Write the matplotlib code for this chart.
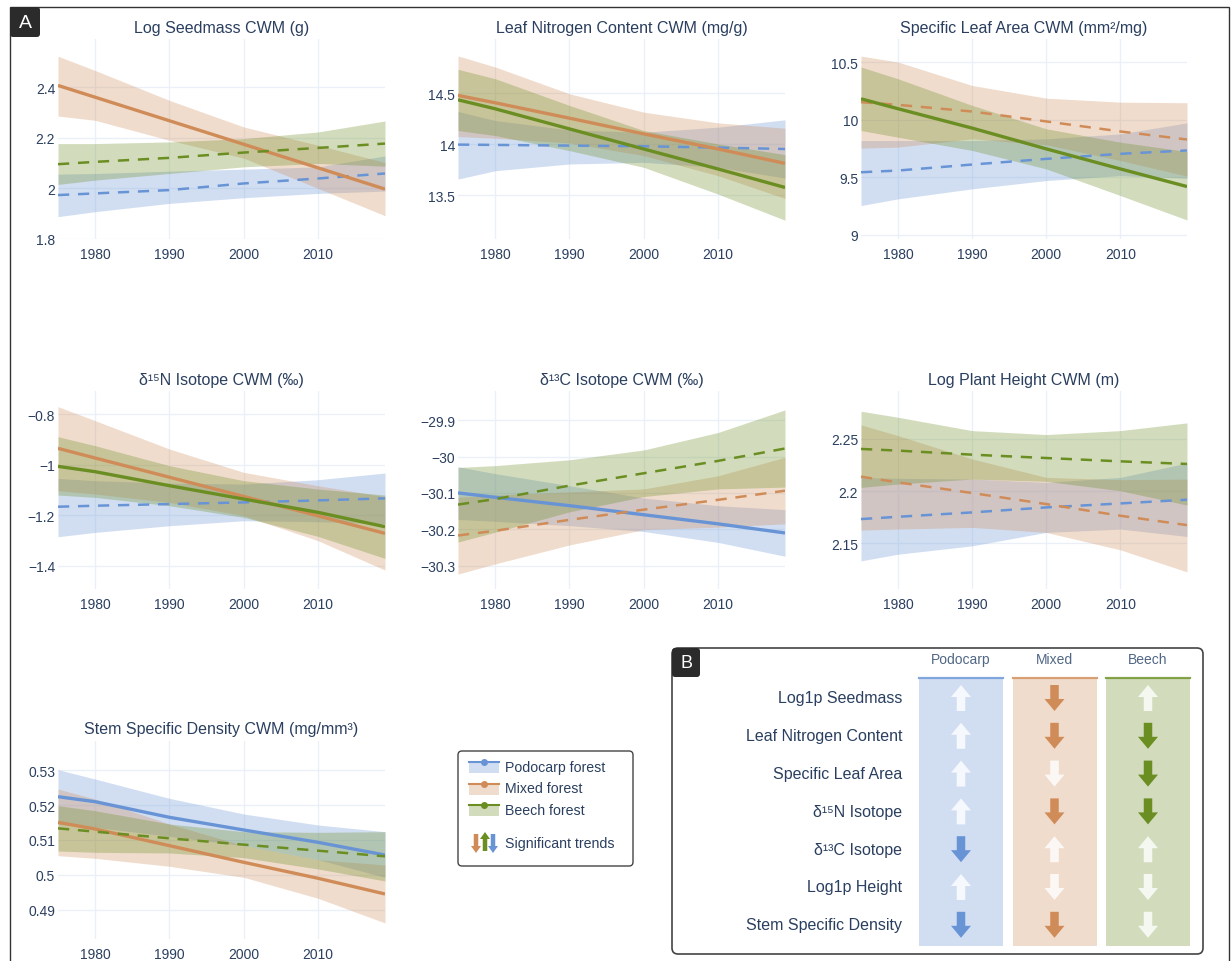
"""
Trait CWM trends 1975-2019 by forest type (panel A) and a summary of
trend direction / significance (panel B).
"""

import matplotlib
matplotlib.use("Agg")
import matplotlib.pyplot as plt
from matplotlib.patches import Rectangle, FancyBboxPatch, FancyArrow

plt.rcParams["font.family"] = ["Liberation Sans", "DejaVu Sans"]

W, H = 1231, 962
TXT = "#2a3f5f"
GRID = "#ebf0f8"

FORESTS = ["Podocarp", "Mixed", "Beech"]
COLORS = {"Podocarp": "#6894d6", "Mixed": "#d08c58", "Beech": "#6b8e23"}

YEARS = [1975, 1980, 1990, 2000, 2010, 2019]
XTICKS = [1980, 1990, 2000, 2010]

# ---- panel A data ----
seed_mean = {"Podocarp": [1.9735, 1.9801, 1.9932, 2.0194, 2.0391, 2.0588],
             "Mixed":    [2.4066, 2.3600, 2.2670, 2.1740, 2.0810, 1.9971],
             "Beech":    [2.0955, 2.1047, 2.1205, 2.1415, 2.1598, 2.1769]}
seed_lo = {"Podocarp": [1.8882, 1.9079, 1.9407, 1.9630, 1.9801, 1.9892],
           "Mixed":    [2.2858, 2.2688, 2.1900, 2.1192, 1.9997, 1.8921],
           "Beech":    [2.0155, 2.0325, 2.0588, 2.0850, 2.0982, 2.0877]}
seed_hi = {"Podocarp": [2.0562, 2.0588, 2.0680, 2.0759, 2.0850, 2.1283],
           "Mixed":    [2.5220, 2.4656, 2.3475, 2.2425, 2.1703, 2.1021],
           "Beech":    [2.1769, 2.1769, 2.1835, 2.1966, 2.2228, 2.2661]}

leafn_mean = {"Podocarp": [13.995, 13.992, 13.985, 13.979, 13.966, 13.952],
              "Mixed":    [14.477, 14.405, 14.254, 14.100, 13.952, 13.811],
              "Beech":    [14.434, 14.346, 14.149, 13.952, 13.756, 13.575]}
leafn_lo = {"Podocarp": [13.657, 13.739, 13.805, 13.821, 13.772, 13.667],
            "Mixed":    [14.074, 14.057, 14.011, 13.887, 13.690, 13.467],
            "Beech":    [14.133, 14.084, 13.936, 13.772, 13.510, 13.254]}
leafn_hi = {"Podocarp": [14.320, 14.231, 14.139, 14.116, 14.166, 14.238],
            "Mixed":    [14.864, 14.756, 14.493, 14.313, 14.208, 14.156],
            "Beech":    [14.733, 14.641, 14.379, 14.133, 14.002, 13.897]}

sla_mean = {"Podocarp": [9.544, 9.559, 9.611, 9.660, 9.704, 9.733],
            "Mixed":    [10.152, 10.129, 10.071, 9.985, 9.898, 9.828],
            "Beech":    [10.181, 10.095, 9.927, 9.747, 9.573, 9.420]}
sla_lo = {"Podocarp": [9.255, 9.313, 9.400, 9.472, 9.515, 9.492],
          "Mixed":    [9.753, 9.762, 9.834, 9.782, 9.646, 9.510],
          "Beech":    [9.906, 9.848, 9.733, 9.573, 9.342, 9.130]}
sla_hi = {"Podocarp": [9.819, 9.819, 9.819, 9.834, 9.877, 9.973],
          "Mixed":    [10.552, 10.500, 10.297, 10.187, 10.152, 10.147],
          "Beech":    [10.457, 10.355, 10.124, 9.921, 9.805, 9.724]}

n15_mean = {"Podocarp": [-1.1666, -1.1627, -1.1561, -1.1495, -1.1416, -1.1336],
            "Mixed":    [-0.9358, -0.9740, -1.0500, -1.1260, -1.2030, -1.2721],
            "Beech":    [-1.0070, -1.0281, -1.0835, -1.1363, -1.1890, -1.2457]}
n15_lo = {"Podocarp": [-1.2853, -1.2682, -1.2418, -1.2220, -1.2260, -1.2339],
          "Mixed":    [-1.1033, -1.1165, -1.1495, -1.2022, -1.3011, -1.4172],
          "Beech":    [-1.1205, -1.1297, -1.1627, -1.2088, -1.2840, -1.3710]}
n15_hi = {"Podocarp": [-1.0545, -1.0637, -1.0730, -1.0769, -1.0598, -1.0334],
          "Mixed":    [-0.7710, -0.8264, -0.9385, -1.0308, -1.0836, -1.1270],
          "Beech":    [-0.8897, -0.9253, -1.0044, -1.0638, -1.0967, -1.1204]}

c13_mean = {"Podocarp": [-30.100, -30.112, -30.135, -30.160, -30.185, -30.210],
            "Mixed":    [-30.217, -30.204, -30.174, -30.146, -30.119, -30.094],
            "Beech":    [-30.132, -30.117, -30.080, -30.046, -30.012, -29.978]}
c13_lo = {"Podocarp": [-30.173, -30.178, -30.190, -30.206, -30.236, -30.274],
          "Mixed":    [-30.323, -30.295, -30.243, -30.201, -30.194, -30.185],
          "Beech":    [-30.235, -30.208, -30.152, -30.110, -30.089, -30.084]}
c13_hi = {"Podocarp": [-30.028, -30.047, -30.080, -30.114, -30.135, -30.146],
          "Mixed":    [-30.112, -30.106, -30.097, -30.089, -30.053, -30.002],
          "Beech":    [-30.030, -30.025, -30.009, -29.982, -29.934, -29.872]}

height_mean = {"Podocarp": [2.1731, 2.1753, 2.1795, 2.1843, 2.1881, 2.1917],
               "Mixed":    [2.2138, 2.2083, 2.1981, 2.1875, 2.1763, 2.1673],
               "Beech":    [2.2404, 2.2388, 2.2349, 2.2317, 2.2285, 2.2260]}
height_lo = {"Podocarp": [2.1330, 2.1394, 2.1474, 2.1603, 2.1635, 2.1564],
             "Mixed":    [2.1625, 2.1635, 2.1651, 2.1603, 2.1436, 2.1224],
             "Beech":    [2.2035, 2.2067, 2.2115, 2.2093, 2.2003, 2.1865]}
height_hi = {"Podocarp": [2.2131, 2.2122, 2.2115, 2.2083, 2.2131, 2.2269],
             "Mixed":    [2.2635, 2.2532, 2.2308, 2.2131, 2.2109, 2.2115],
             "Beech":    [2.2766, 2.2708, 2.2580, 2.2542, 2.2580, 2.2654]}

ssd_mean = {"Podocarp": [0.52238, 0.52095, 0.51648, 0.51286, 0.50933, 0.50571],
            "Mixed":    [0.51505, 0.51314, 0.50838, 0.50362, 0.49905, 0.49457],
            "Beech":    [0.51333, 0.51238, 0.51048, 0.50867, 0.50695, 0.50533]}
ssd_lo = {"Podocarp": [0.51448, 0.51362, 0.51105, 0.50838, 0.50438, 0.49933],
          "Mixed":    [0.50552, 0.50476, 0.50248, 0.49933, 0.49333, 0.48629],
          "Beech":    [0.50686, 0.50648, 0.50629, 0.50495, 0.50171, 0.49829]}
ssd_hi = {"Podocarp": [0.53010, 0.52743, 0.52190, 0.51743, 0.51429, 0.51238],
          "Mixed":    [0.52457, 0.52171, 0.51457, 0.50838, 0.50438, 0.50286],
          "Beech":    [0.51981, 0.51838, 0.51457, 0.51238, 0.51219, 0.51238]}

TITLES = ["Log Seedmass CWM (g)", "Leaf Nitrogen Content CWM (mg/g)",
          "Specific Leaf Area CWM (mm²/mg)", "δ¹⁵N Isotope CWM (‰)",
          "δ¹³C Isotope CWM (‰)", "Log Plant Height CWM (m)",
          "Stem Specific Density CWM (mg/mm³)"]
YTICKS = [[1.8, 2, 2.2, 2.4], [13.5, 14, 14.5], [9, 9.5, 10, 10.5],
          [-1.4, -1.2, -1, -0.8], [-30.3, -30.2, -30.1, -30, -29.9],
          [2.15, 2.2, 2.25], [0.49, 0.5, 0.51, 0.52, 0.53]]
YLIMS = [(1.8, 2.59), (13.07, 15.03), (8.965, 10.70), (-1.492, -0.709),
         (-30.364, -29.82), (2.106, 2.296), (0.4817, 0.5383)]

# ---- panel B data ----
B_ROWS = ["Log1p Seedmass", "Leaf Nitrogen Content", "Specific Leaf Area",
          "δ¹⁵N Isotope", "δ¹³C Isotope", "Log1p Height", "Stem Specific Density"]
DIRECTION = {"Podocarp": [1, 1, 1, 1, -1, 1, -1],
             "Mixed":    [-1, -1, -1, -1, 1, -1, -1],
             "Beech":    [1, -1, -1, -1, 1, -1, -1]}
SIGNIF = {"Podocarp": [0, 0, 0, 0, 1, 0, 1],
          "Mixed":    [1, 1, 0, 1, 0, 0, 1],
          "Beech":    [0, 1, 1, 1, 0, 0, 0]}

PANELS = [(seed_mean, seed_lo, seed_hi), (leafn_mean, leafn_lo, leafn_hi),
          (sla_mean, sla_lo, sla_hi), (n15_mean, n15_lo, n15_hi),
          (c13_mean, c13_lo, c13_hi), (height_mean, height_lo, height_hi),
          (ssd_mean, ssd_lo, ssd_hi)]

COLS = [(58, 385), (458, 785), (861, 1187)]
ROWS = [(40, 240), (392, 590), (742, 940)]


def fmt(v):
    return f"{v:g}".replace("-", "\u2212")


fig = plt.figure(figsize=(W / 100, H / 100), dpi=100)

for i, (mean, lo, hi) in enumerate(PANELS):
    x0, x1 = COLS[i % 3]
    y0, y1 = ROWS[i // 3]
    ax = fig.add_axes([x0 / W, 1 - y1 / H, (x1 - x0) / W, (y1 - y0) / H])
    for f in FORESTS:
        c = COLORS[f]
        ax.fill_between(YEARS, lo[f], hi[f], color=c, alpha=0.3, lw=0)
        if SIGNIF[f][i]:
            ax.plot(YEARS, mean[f], color=c, lw=2.4, solid_capstyle="butt")
        else:
            ax.plot(YEARS, mean[f], color=c, lw=1.8, ls=(0, (4.5, 3.5)))
    ax.set_xlim(1975, 2019)
    ax.set_ylim(*YLIMS[i])
    ax.set_xticks(XTICKS)
    ax.set_yticks(YTICKS[i])
    ax.set_yticklabels([fmt(v) for v in YTICKS[i]])
    ax.grid(True, color=GRID, lw=1)
    ax.set_axisbelow(True)
    for s in ax.spines.values():
        s.set_visible(False)
    ax.tick_params(length=0, labelsize=10, labelcolor=TXT)
    ax.tick_params(axis="x", pad=6)
    ax.tick_params(axis="y", pad=2)
    fig.text((x0 + x1) / 2 / W, 1 - (y0 - 12) / H, TITLES[i], ha="center",
             va="center", fontsize=11.5, color=TXT)

# overlay in pixel coordinates for frames, legend and panel B
ov = fig.add_axes([0, 0, 1, 1])
ov.set_xlim(0, W)
ov.set_ylim(H, 0)
ov.axis("off")

ov.add_patch(Rectangle((10, 8), 1219, 1000, fill=False, ec="#333333", lw=1))
ov.add_patch(FancyBboxPatch((10, 8), 30, 30, boxstyle="round,pad=0,rounding_size=3",
                            fc="#2b2b2b", ec="none"))
ov.text(25, 23, "A", color="white", fontsize=14, ha="center", va="center")

# legend
ov.add_patch(FancyBboxPatch((458, 752), 175, 115, boxstyle="round,pad=0,rounding_size=4",
                            fc="white", ec="#444444", lw=1))
for k, f in enumerate(FORESTS):
    cy = 768 + k * 21.5
    ov.add_patch(Rectangle((469, cy - 5), 30, 11, fc=COLORS[f], alpha=0.3, ec="none"))
    ov.plot([469, 499], [cy - 5, cy - 5], color=COLORS[f], lw=1.5)
    ov.plot([484], [cy - 5], "o", color=COLORS[f], ms=4)
    ov.text(505, cy, f"{f} forest", fontsize=10.2, color=TXT, va="center")
for dx, f, d in [(476, "Mixed", 1), (493, "Podocarp", 1), (485, "Beech", -1)]:
    ystart = 835 if d == 1 else 852
    ov.add_patch(FancyArrow(dx, ystart, 0, 19 * d, width=4.5, head_width=10,
                            head_length=7, length_includes_head=True,
                            color=COLORS[f], lw=0))
ov.text(505, 844, "Significant trends", fontsize=10.2, color=TXT, va="center")

# panel B
ov.add_patch(FancyBboxPatch((672, 649), 531, 306, boxstyle="round,pad=0,rounding_size=6",
                            fc="white", ec="#444444", lw=1.2))
ov.add_patch(FancyBboxPatch((672, 649), 28, 29, boxstyle="round,pad=0,rounding_size=3",
                            fc="#2b2b2b", ec="none"))
ov.text(686, 663.5, "B", color="white", fontsize=13, ha="center", va="center")

col_left, col_w, col_step = 919, 84, 93.5
row_top, row_step = 699, 37.8
for j, f in enumerate(FORESTS):
    xl = col_left + j * col_step
    cx = xl + col_w / 2
    ov.add_patch(Rectangle((xl, 679), col_w, 268, fc=COLORS[f], alpha=0.3, ec="none"))
    ov.plot([xl, xl + col_w], [679, 679], color=COLORS[f], lw=1.6, alpha=0.8)
    ov.text(cx, 660, f, fontsize=10, color="#506784", ha="center", va="center")
    for r in range(len(B_ROWS)):
        cy = row_top + r * row_step
        d = DIRECTION[f][r]
        if SIGNIF[f][r]:
            col, alpha = COLORS[f], 1.0
        else:
            col, alpha = "white", 0.8
        ov.add_patch(FancyArrow(cx, cy + 13 * d, 0, -26 * d, width=8.5, head_width=20,
                                head_length=12, length_includes_head=True,
                                fc=col, ec="none", alpha=alpha))

for r, lab in enumerate(B_ROWS):
    ov.text(902, row_top + r * row_step, lab, fontsize=11.5, color=TXT,
            ha="right", va="center")

fig.savefig("out.png", dpi=100)
